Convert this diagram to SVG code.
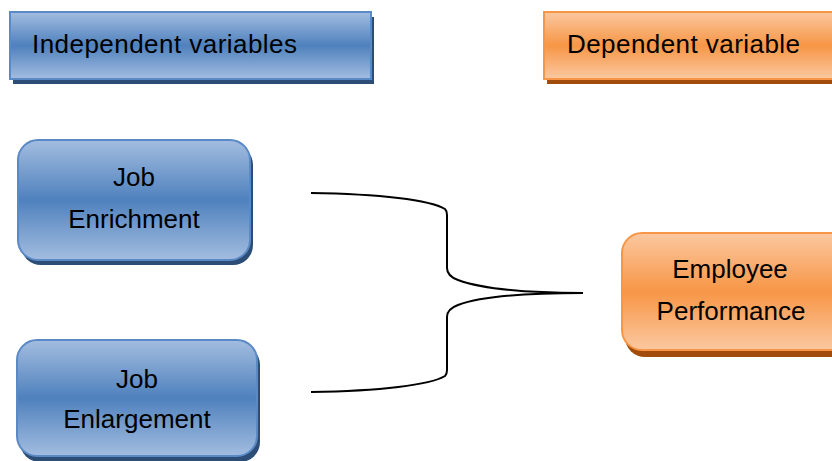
<svg xmlns="http://www.w3.org/2000/svg" width="832" height="461" viewBox="0 0 832 461">
<defs>
<linearGradient id="gb" x1="0" y1="0" x2="0" y2="1">
<stop offset="0" stop-color="#a3bde0"/><stop offset="0.5" stop-color="#4f81bd"/><stop offset="1" stop-color="#a3bde0"/>
</linearGradient>
<linearGradient id="go" x1="0" y1="0" x2="0" y2="1">
<stop offset="0" stop-color="#fbc8a0"/><stop offset="0.5" stop-color="#f79646"/><stop offset="1" stop-color="#fbc8a0"/>
</linearGradient>
</defs>
<style>
.b{fill:url(#gb);stroke:#5a8ac6;stroke-width:2}
.bs{fill:#2c4d75}
.o{fill:url(#go);stroke:#f79646;stroke-width:2}
.os{fill:#a14c0a}
text{font-family:"Liberation Sans",Arial,sans-serif;font-size:26px;fill:#000}
.c{text-anchor:middle}
.ln{fill:none;stroke:#000;stroke-width:2}
</style>
<rect width="832" height="461" fill="#fff"/>
<g id="hdr-independent">
<rect class="bs" x="13" y="17" width="361" height="67"/>
<rect class="b" x="10" y="12" width="361" height="67"/>
<text x="32" y="53" textLength="265">Independent variables</text>
</g>
<g id="hdr-dependent">
<rect class="os" x="547" y="17" width="290" height="67"/>
<rect class="o" x="544" y="12" width="292" height="67"/>
<text x="567" y="53" textLength="233">Dependent variable</text>
</g>
<g id="job-enrichment">
<rect class="bs" x="21" y="145" width="232" height="120" rx="20"/>
<rect class="b" x="18" y="140" width="232" height="120" rx="20"/>
<text class="c" x="134" y="186">Job</text>
<text class="c" x="134" y="228">Enrichment</text>
</g>
<g id="job-enlargement">
<rect class="bs" x="20" y="345" width="240" height="117" rx="20"/>
<rect class="b" x="17" y="340" width="240" height="116" rx="20"/>
<text class="c" x="137" y="388">Job</text>
<text class="c" x="137" y="428">Enlargement</text>
</g>
<g id="employee-performance">
<rect class="os" x="625" y="238" width="230" height="119" rx="20"/>
<rect class="o" x="622" y="233" width="230" height="117" rx="20"/>
<text class="c" x="730" y="278">Employee</text>
<text class="c" x="731" y="320">Performance</text>
</g>
<g id="connectors">
<path class="ln" d="M311,193 C380,194 430,200 445,209 Q447,211 447,215 L447,268 Q447,276 458,280 C480,288 520,293 583,293"/>
<path class="ln" d="M311,392 C380,391 430,385 445,376 Q447,374 447,370 L447,317 Q447,309 458,305 C480,297 520,293 583,293"/>
</g>
</svg>
